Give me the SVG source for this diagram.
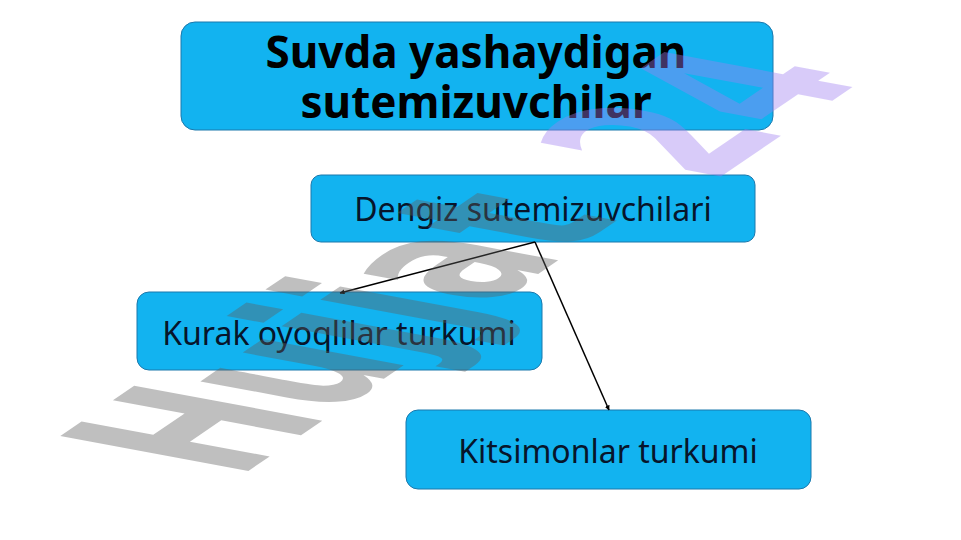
<svg xmlns="http://www.w3.org/2000/svg" width="961" height="540" viewBox="0 0 961 540">
<defs>
<style>
.box{fill:#12B3F0;stroke:#1B78AC;stroke-width:1}
.t{font-family:"Noto Sans","Open Sans","DejaVu Sans",sans-serif;fill:#07152B;text-anchor:middle}
.title{font-weight:bold;font-size:44px;fill:#000}
.lbl{font-size:32px}
.conn{stroke:#000;stroke-width:1.5;fill:none;marker-end:url(#ah)}
</style>
<marker id="ah" viewBox="0 0 10 10" refX="9" refY="5" markerWidth="5" markerHeight="5" orient="auto" markerUnits="userSpaceOnUse">
<path d="M0,0 L10,5 L0,10 z" fill="#000"/>
</marker>
<linearGradient id="wm" gradientUnits="userSpaceOnUse" x1="0" y1="0" x2="480" y2="0">
<stop offset="0" stop-color="#606060"/>
<stop offset="0.72" stop-color="#606060"/>
<stop offset="0.8" stop-color="#A080F2"/>
<stop offset="1" stop-color="#A080F2"/>
</linearGradient>
</defs>
<rect width="961" height="540" fill="#fff"/>
<g id="n-title">
<rect class="box" x="181" y="22" width="592" height="108" rx="14"/>
<text class="t title" x="476" y="68">Suvda yashaydigan</text>
<text class="t title" x="476" y="118">sutemizuvchilar</text>
</g>
<g id="n-dengiz">
<rect class="box" x="311" y="175" width="444" height="67" rx="10"/>
<text class="t lbl" x="533" y="221">Dengiz sutemizuvchilari</text>
</g>
<g id="n-kurak">
<rect class="box" x="137" y="292" width="405" height="78" rx="12"/>
<text class="t lbl" x="339" y="345">Kurak oyoqlilar turkumi</text>
</g>
<g id="n-kit">
<rect class="box" x="406" y="410" width="405" height="79" rx="12"/>
<text class="t lbl" x="608" y="463">Kitsimonlar turkumi</text>
</g>
<g id="connectors">
<line class="conn" x1="535" y1="242" x2="340" y2="293"/>
<line class="conn" x1="535" y1="242" x2="609" y2="410"/>
</g>
<g id="watermark" opacity="0.4">
<text transform="matrix(1.131,-0.769,2.58,0.48,238,478)" font-family="DejaVu Sans" font-weight="bold" font-size="100" fill="url(#wm)">Hujjat<tspan dx="53" dy="12">24</tspan></text>
</g>
</svg>
